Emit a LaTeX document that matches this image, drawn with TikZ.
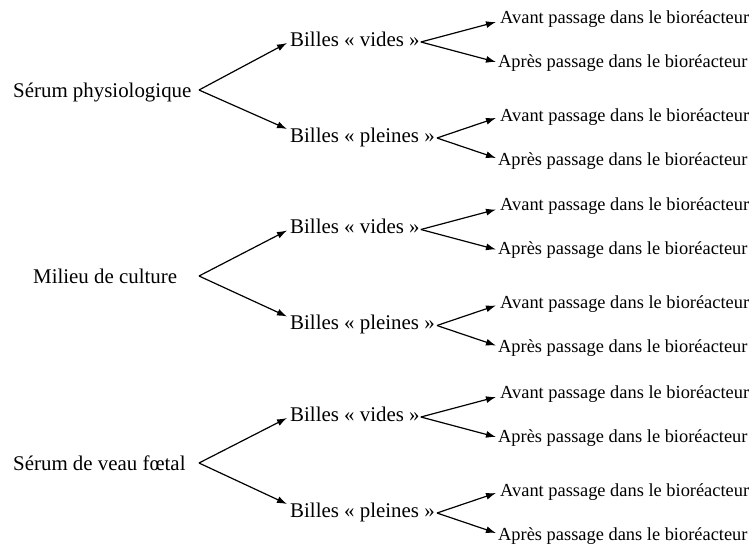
\documentclass[tikz,border=0pt]{standalone}
\usepackage{fontspec}
\setmainfont{Liberation Serif}
\usetikzlibrary{arrows.meta}
\begin{document}
\begin{tikzpicture}[x=1pt,y=-1pt,
  lvl/.style={inner sep=0pt,anchor=base west,font=\fontsize{20.9}{25}\selectfont},
  leaf/.style={inner sep=0pt,anchor=base west,font=\fontsize{18.4}{22}\selectfont},
  arr/.style={line width=1.2pt,-{Latex[length=10pt,width=7pt]}}]
\useasboundingbox[fill=white] (0,0) rectangle (754,546);
\foreach \g/\name/\rx/\rb in {1/{Sérum physiologique}/13/97,
                               2/{Milieu de culture}/33/283,
                               3/{Sérum de veau fœtal}/13/470}{
  \pgfmathsetmacro\o{(\g-1)*187.5}
  \node[lvl] (r\g) at (\rx,\rb) {\name};
  \coordinate (f\g) at (199,\rb-7);
  \node[lvl] (v\g) at (290,46+\o) {Billes «~vides~»};
  \node[lvl] (p\g) at (290,142+\o) {Billes «~pleines~»};
  \node[leaf] (va\g) at (500,23+\o) {Avant passage dans le bioréacteur};
  \node[leaf] (vb\g) at (498,67+\o) {Après passage dans le bioréacteur};
  \node[leaf] (pa\g) at (500,121+\o) {Avant passage dans le bioréacteur};
  \node[leaf] (pb\g) at (498,165+\o) {Après passage dans le bioréacteur};
  \coordinate (fv\g) at ([shift={(1,-4)}]v\g.base east);
  \coordinate (fp\g) at ([shift={(2,-4)}]p\g.base east);
  \draw[arr] (f\g) -- ([shift={(-3,-3)}]v\g.base west);
  \draw[arr] (f\g) -- ([shift={(-3,-13)}]p\g.base west);
  \draw[arr] (fv\g) -- ([shift={(-4,-1)}]va\g.base west);
  \draw[arr] (fv\g) -- ([shift={(-2,-5)}]vb\g.base west);
  \draw[arr] (fp\g) -- ([shift={(-4,-3)}]pa\g.base west);
  \draw[arr] (fp\g) -- ([shift={(-2,-7)}]pb\g.base west);
}
\end{tikzpicture}
\end{document}
